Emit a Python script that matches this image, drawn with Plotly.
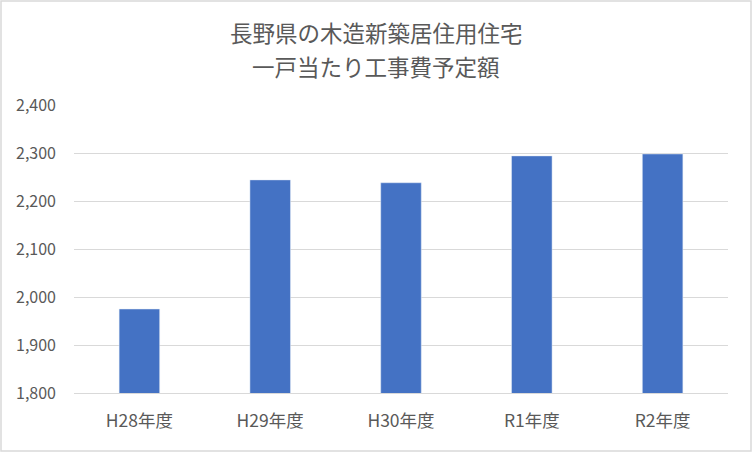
import plotly.graph_objects as go

categories = ["H28年度", "H29年度", "H30年度", "R1年度", "R2年度"]
values = [1975, 2244, 2238, 2294, 2298]
title_lines = ["長野県の木造新築居住用住宅", "一戸当たり工事費予定額"]

FONT = "Noto Sans CJK JP, Meiryo, sans-serif"
GRAY = "#595959"

fig = go.Figure(go.Bar(x=categories, y=values, marker_color="#4472C4", width=0.31))

fig.update_layout(
    width=752, height=452,
    margin=dict(l=74, r=24, t=105, b=59),
    paper_bgcolor="white", plot_bgcolor="white",
    font=dict(family=FONT, color=GRAY, size=14),
    showlegend=False,
    xaxis=dict(showgrid=False, showline=True, linecolor="#D9D9D9", linewidth=1,
               ticks="", ticklabelstandoff=12, tickfont=dict(size=17.5, color=GRAY)),
    yaxis=dict(range=[1800, 2400], dtick=100, tickformat=",", showgrid=True,
               gridcolor="#D9D9D9", gridwidth=1, zeroline=False, showline=False,
               ticks="", ticklabelstandoff=17, tickfont=dict(size=16, color=GRAY)),
    shapes=[dict(type="rect", xref="paper", yref="paper",
                 x0=-73/654, x1=1 + 23/654, y0=-58/288, y1=1 + 104/288,
                 line=dict(color="#D9D9D9", width=1.5), fillcolor="rgba(0,0,0,0)", layer="below")],
    annotations=[
        dict(text=title_lines[0], xref="paper", yref="paper", x=(376-74)/654, y=1 + (105-32)/288,
             showarrow=False, font=dict(size=22.5, color=GRAY, family=FONT), xanchor="center", yanchor="middle"),
        dict(text=title_lines[1], xref="paper", yref="paper", x=(376-74)/654, y=1 + (105-66)/288,
             showarrow=False, font=dict(size=22.5, color=GRAY, family=FONT), xanchor="center", yanchor="middle"),
    ],
)

fig.write_html("out.html", config={"displayModeBar": False},
               post_script="document.body.style.margin='0';")
